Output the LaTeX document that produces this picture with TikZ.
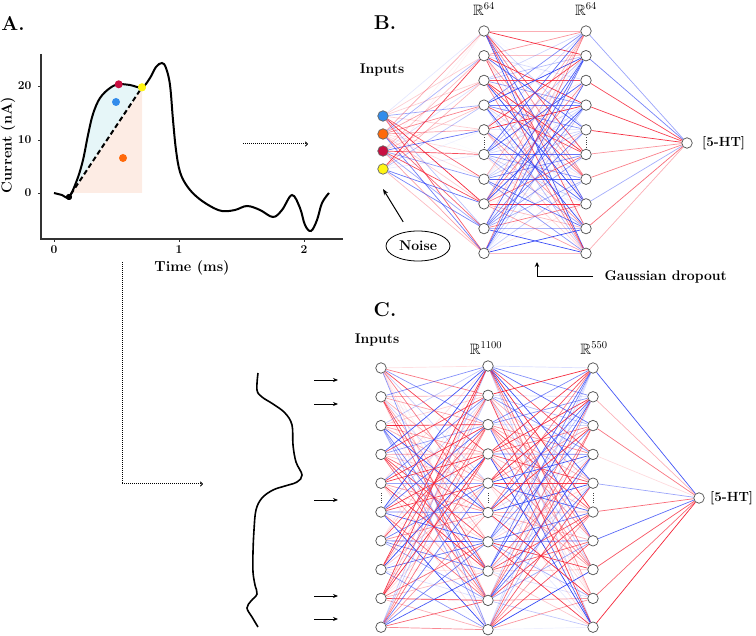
\documentclass[tikz,border=0pt]{standalone}
\usepackage{fix-cm}
\usepackage{amssymb}
\usetikzlibrary{arrows.meta,backgrounds,shapes.geometric}
\definecolor{netred}{RGB}{245,35,55}
\definecolor{netblue}{RGB}{45,65,245}
\definecolor{dotblue}{RGB}{50,140,235}
\definecolor{dotorange}{RGB}{255,105,10}
\definecolor{dotred}{RGB}{200,15,65}
\definecolor{dotyellow}{RGB}{255,245,20}
\definecolor{fillblue}{RGB}{230,246,248}
\definecolor{fillorange}{RGB}{253,236,228}
\definecolor{axisgray}{RGB}{50,50,50}
\tikzset{
  neuron/.style={circle,draw=black!70,fill=white,line width=0.7pt,minimum size=10.5pt,inner sep=0pt},
  edge/.style={line width=0.7pt},
  lbl/.style={font=\bfseries\fontsize{14}{16}\selectfont},
  outlbl/.style={font=\bfseries\fontsize{13.3}{15}\selectfont,anchor=west,inner sep=2pt},
  plotlbl/.style={font=\bfseries\fontsize{14.5}{17}\selectfont},
  ticklbl/.style={font=\bfseries\fontsize{12}{14}\selectfont},
  panel/.style={font=\bfseries\fontsize{20}{24}\selectfont},
  rlbl/.style={font=\fontsize{15}{17}\selectfont},
  pt/.style={circle,inner sep=0pt,minimum size=8pt},
  vdotline/.style={line width=1pt,dash pattern=on 0.9pt off 1.4pt,black!75},
  dotarrow/.style={line width=1pt,dash pattern=on 1pt off 1pt,-{To[length=3pt,width=5pt]}},
  inarrow/.style={line width=0.9pt,-{Stealth[length=5pt,width=4pt]}},
}
\begin{document}
\begin{tikzpicture}[x=1pt,y=-1pt]
\useasboundingbox (0,0) rectangle (756,636);

% ---------------- Panel A ----------------
\node[panel] (labA) at (13,24) {A.};
\def\curvepts{(54,193) (62,195) (69,197) (77,180) (83,160) (88,135) (93,114) (100,98) (110,88) (118.7,84.3) (130,85) (142,87.3) (150,78) (156,67) (162,63) (166,68) (170,85) (173,120) (176,150) (180,172) (187,186) (197,197) (210,206) (222,211) (235,210) (247,206) (260,210) (273,217) (282,210) (292,195) (300,208) (305,225) (311,231) (317,220) (322,203) (329,193)}
% orange triangle
\fill[fillorange] (72,193) -- (142,87.3) -- (142,193) -- cycle;
% blue region: under curve, above dashed line
\begin{scope}
  \clip (69,197) -- (142,87.3) -- (142,40) -- (60,40) -- cycle;
  \fill[fillblue] plot[smooth,tension=0.6] coordinates {\curvepts} -- (329,300) -- (54,300) -- cycle;
\end{scope}
% axes
\draw[axisgray,line width=1.1pt] (41,54) -- (41,239) -- (343,239);
\foreach \yy/\t in {193/0,140/10,86/20}{
  \draw[axisgray,line width=0.8pt] (41,\yy) -- (38,\yy);
  \node[ticklbl,anchor=east] at (35,\yy) {\t};
}
\foreach \xx/\t in {54/0,179/1,304/2}{
  \draw[axisgray,line width=0.8pt] (\xx,239) -- (\xx,242);
  \node[ticklbl] at (\xx,250) {\t};
}
\node[plotlbl] (xlab) at (192,268) {Time (ms)};
\node[plotlbl,rotate=90] (ylab) at (8,145) {Current (nA)};
% points
\node[pt,fill=black,minimum size=6pt] (pblack) at (69,197) {};
\node[pt,fill=dotyellow] (pyellow) at (142,87.3) {};
\draw[line width=2pt,dash pattern=on 5pt off 3pt] (pblack) -- (pyellow);
\draw[line width=2pt] plot[smooth,tension=0.6] coordinates {\curvepts};
\node[pt,fill=black,minimum size=6pt] at (69,197) {};
\node[pt,fill=dotyellow] at (142,87.3) {};
\node[pt,fill=dotred] (pred) at (118.7,84.3) {};
\node[pt,fill=dotblue] (pblue) at (116,102) {};
\node[pt,fill=dotorange] (porange) at (123,158) {};

% arrows out of A
\coordinate (aoutS) at (243,144);
\coordinate (aoutE) at (308,144);
\draw[dotarrow] (aoutS) -- (aoutE);
\coordinate (aLS) at (122,262);
\coordinate (aLC) at (122,484);
\coordinate (aLE) at (203,484);
\draw[dotarrow] (aLS) -- (aLC) -- (aLE);

% wavy signal
\draw[line width=1.6pt] plot[smooth,tension=0.6] coordinates {(258,373) (257,390) (262,397) (273,404) (285,413) (292,425) (293,445) (296,462) (302,475) (297,482) (285,486) (273,490) (262,498) (256,510) (254,530) (253,552) (253,572) (255,585) (257,594) (251,601) (247,608) (252,617) (258,627)};
\foreach \yy [count=\k] in {380,404,500,596,619}{
  \coordinate (sgS\k) at (314,\yy);
  \coordinate (sgE\k) at (338,\yy);
  \draw[inarrow] (sgS\k) -- (sgE\k);
}

% ---------------- Panel B ----------------
\node[panel] (labB) at (385,23) {B.};
\node[lbl] (inB) at (382,70) {Inputs};
\node[rlbl] (rb1) at (484,9) {$\mathbb{R}^{64}$};
\node[rlbl] (rb2) at (586,9) {$\mathbb{R}^{64}$};
\foreach \i/\y/\c in {0/116/dotblue,1/134/dotorange,2/151/dotred,3/169/dotyellow}
  \node[neuron,fill=\c,draw=black!60] (bi\i) at (383,\y) {};
\foreach \i in {0,...,9}{
  \pgfmathsetmacro\yy{31+24.7*\i}
  \node[neuron] (bh\i) at (484,\yy) {};
  \node[neuron] (bk\i) at (586,\yy) {};
}
\node[neuron] (bo) at (687,143) {};
\node[outlbl] (boLab) at (700,143) {[5-HT]};
\draw[vdotline] (484,137.5) -- (484,147.5);
\draw[vdotline] (586,137.5) -- (586,147.5);

\node[ellipse,draw,line width=0.8pt,minimum width=64pt,minimum height=30pt,lbl,inner sep=1pt] (noise) at (418,246) {Noise};
\coordinate (noiseto) at (383,189);
\draw[line width=1pt,-{Stealth[length=6pt,width=4.5pt]},shorten <=11pt] (noise) -- (noiseto);

\node[lbl,anchor=west] (gd) at (601,277) {Gaussian dropout};
\coordinate (gdtip) at (537,262);
\draw[line width=1pt,-{Stealth[length=5pt,width=4.5pt]}] (gd.west) ++(-8,0) -| (gdtip);

% ---------------- Panel C ----------------
\node[panel] (labC) at (385,310) {C.};
\node[lbl] (inC) at (377,340) {Inputs};
\node[rlbl] (rc1) at (486,348) {$\mathbb{R}^{1100}$};
\node[rlbl] (rc2) at (594,348) {$\mathbb{R}^{550}$};
\foreach \i in {0,...,9}{
  \pgfmathsetmacro\ya{368+28.8*\i}
  \pgfmathsetmacro\yb{366+29.3*\i}
  \node[neuron] (ci\i) at (381,\ya) {};
  \node[neuron] (ch\i) at (488,\yb) {};
  \node[neuron] (ck\i) at (593,\ya) {};
}
\node[neuron] (co) at (699,498) {};
\node[outlbl] (coLab) at (708,498) {[5-HT]};
\draw[vdotline] (381,493) -- (381,503);
\draw[vdotline] (488,493) -- (488,503);
\draw[vdotline] (593,493) -- (593,503);

% ---------------- Edges ----------------
\pgfmathsetseed{7}
\begin{pgfonlayer}{background}
\foreach \i in {0,...,3}{\foreach \j in {0,...,9}{
  \pgfmathsetmacro\w{rand}\pgfmathsetmacro\op{abs(\w)}
  \ifdim\w pt>0pt \def\ec{netred}\else\def\ec{netblue}\fi
  \draw[edge,draw=\ec,draw opacity=\op] (bi\i) -- (bh\j);
}}
\foreach \i in {0,...,9}{\foreach \j in {0,...,9}{
  \pgfmathsetmacro\w{rand}\pgfmathsetmacro\op{abs(\w)}
  \ifdim\w pt>0pt \def\ec{netred}\else\def\ec{netblue}\fi
  \draw[edge,draw=\ec,draw opacity=\op] (bh\i) -- (bk\j);
}}
\foreach \i in {0,...,9}{
  \pgfmathsetmacro\w{rand}\pgfmathsetmacro\op{abs(\w)}
  \ifdim\w pt>0pt \def\ec{netred}\else\def\ec{netblue}\fi
  \draw[edge,draw=\ec,draw opacity=\op] (bk\i) -- (bo);
}
\foreach \i in {0,...,9}{\foreach \j in {0,...,9}{
  \pgfmathsetmacro\w{rand}\pgfmathsetmacro\op{abs(\w)}
  \ifdim\w pt>0pt \def\ec{netred}\else\def\ec{netblue}\fi
  \draw[edge,draw=\ec,draw opacity=\op] (ci\i) -- (ch\j);
}}
\foreach \i in {0,...,9}{\foreach \j in {0,...,9}{
  \pgfmathsetmacro\w{rand}\pgfmathsetmacro\op{abs(\w)}
  \ifdim\w pt>0pt \def\ec{netred}\else\def\ec{netblue}\fi
  \draw[edge,draw=\ec,draw opacity=\op] (ch\i) -- (ck\j);
}}
\foreach \i in {0,...,9}{
  \pgfmathsetmacro\w{rand}\pgfmathsetmacro\op{abs(\w)}
  \ifdim\w pt>0pt \def\ec{netred}\else\def\ec{netblue}\fi
  \draw[edge,draw=\ec,draw opacity=\op] (ck\i) -- (co);
}
\end{pgfonlayer}
\end{tikzpicture}
\end{document}
